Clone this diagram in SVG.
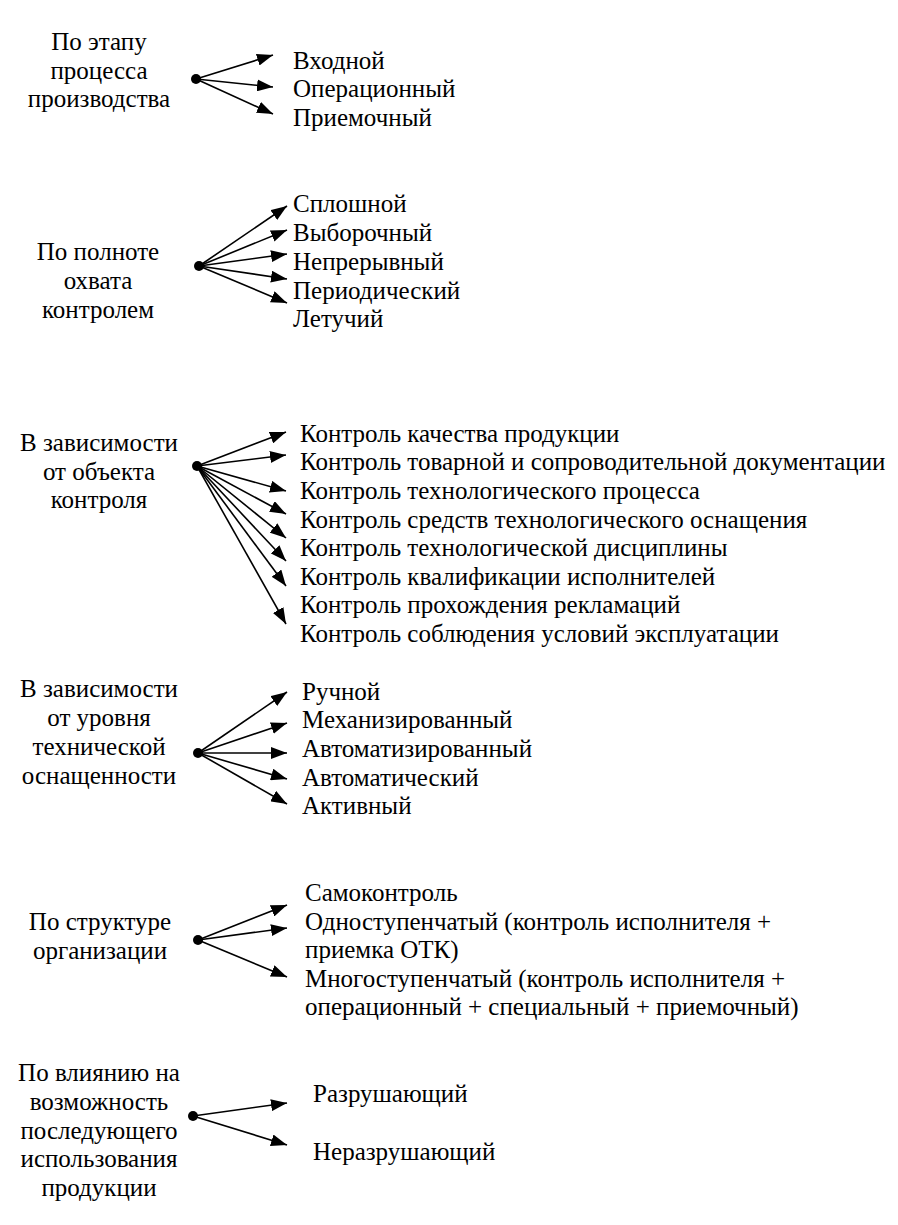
<svg xmlns="http://www.w3.org/2000/svg" width="898" height="1225" viewBox="0 0 898 1225">
<style>
text{font-family:'Liberation Serif','Times New Roman',serif;font-size:25px;fill:#000}
.c{text-anchor:middle}
.ln{stroke:#000;stroke-width:1.6;fill:none}
.dot{fill:#000}
</style>
<defs>
<marker id="ah" markerUnits="userSpaceOnUse" markerWidth="18" markerHeight="12" refX="16" refY="6" orient="auto">
<path d="M0,0 L16,6 L0,12 Z" fill="#000"/>
</marker>
</defs>
<rect width="898" height="1225" fill="#fff"/>
<g font-family="Liberation Serif, serif" font-size="25">
<g id="cat1">
<text class="c" x="99" y="50">По этапу</text>
<text class="c" x="99" y="79">процесса</text>
<text class="c" x="99" y="107">производства</text>
<circle class="dot" cx="196" cy="79" r="5"/>
</g>
<g id="items1">
<text x="293" y="69">Входной</text>
<text x="293" y="97">Операционный</text>
<text x="293" y="126">Приемочный</text>
</g>
<g id="cat2">
<text class="c" x="98" y="260">По полноте</text>
<text class="c" x="98" y="289">охвата</text>
<text class="c" x="98" y="318">контролем</text>
<circle class="dot" cx="199" cy="266" r="5"/>
</g>
<g id="items2">
<text x="293" y="212">Сплошной</text>
<text x="293" y="241">Выборочный</text>
<text x="293" y="270">Непрерывный</text>
<text x="293" y="299">Периодический</text>
<text x="293" y="327">Летучий</text>
</g>
<g id="cat3">
<text class="c" x="99" y="451">В зависимости</text>
<text class="c" x="99" y="480">от объекта</text>
<text class="c" x="99" y="508">контроля</text>
<circle class="dot" cx="197" cy="466" r="5"/>
</g>
<g id="items3">
<text x="300" y="442">Контроль качества продукции</text>
<text x="300" y="470">Контроль товарной и сопроводительной документации</text>
<text x="300" y="499">Контроль технологического процесса</text>
<text x="300" y="528">Контроль средств технологического оснащения</text>
<text x="300" y="556">Контроль технологической дисциплины</text>
<text x="300" y="585">Контроль квалификации исполнителей</text>
<text x="300" y="613">Контроль прохождения рекламаций</text>
<text x="300" y="642">Контроль соблюдения условий эксплуатации</text>
</g>
<g id="cat4">
<text class="c" x="99" y="697">В зависимости</text>
<text class="c" x="99" y="726">от уровня</text>
<text class="c" x="99" y="755">технической</text>
<text class="c" x="99" y="784">оснащенности</text>
<circle class="dot" cx="198" cy="753" r="5"/>
</g>
<g id="items4">
<text x="302" y="700">Ручной</text>
<text x="302" y="728">Механизированный</text>
<text x="302" y="757">Автоматизированный</text>
<text x="302" y="786">Автоматический</text>
<text x="302" y="814">Активный</text>
</g>
<g id="cat5">
<text class="c" x="100" y="930">По структуре</text>
<text class="c" x="100" y="959">организации</text>
<circle class="dot" cx="198" cy="940" r="5"/>
</g>
<g id="items5">
<text x="305" y="901">Самоконтроль</text>
<text x="305" y="930">Одноступенчатый (контроль исполнителя +</text>
<text x="305" y="958">приемка ОТК)</text>
<text x="305" y="987">Многоступенчатый (контроль исполнителя +</text>
<text x="305" y="1015">операционный + специальный + приемочный)</text>
</g>
<g id="cat6">
<text class="c" x="99" y="1081">По влиянию на</text>
<text class="c" x="99" y="1110">возможность</text>
<text class="c" x="99" y="1139">последующего</text>
<text class="c" x="99" y="1167">использования</text>
<text class="c" x="99" y="1196">продукции</text>
<circle class="dot" cx="193" cy="1116" r="5"/>
</g>
<g id="items6">
<text x="313" y="1102">Разрушающий</text>
<text x="313" y="1160">Неразрушающий</text>
</g>
</g>
<g id="connectors" class="ln">
<line x1="196" y1="79" x2="273" y2="55" marker-end="url(#ah)"/>
<line x1="196" y1="79" x2="273" y2="87" marker-end="url(#ah)"/>
<line x1="196" y1="79" x2="273" y2="114" marker-end="url(#ah)"/>
<line x1="199" y1="266" x2="287" y2="206" marker-end="url(#ah)"/>
<line x1="199" y1="266" x2="287" y2="230" marker-end="url(#ah)"/>
<line x1="199" y1="266" x2="287" y2="254" marker-end="url(#ah)"/>
<line x1="199" y1="266" x2="287" y2="279" marker-end="url(#ah)"/>
<line x1="199" y1="266" x2="287" y2="303" marker-end="url(#ah)"/>
<line x1="197" y1="466" x2="286" y2="432" marker-end="url(#ah)"/>
<line x1="197" y1="466" x2="286" y2="455" marker-end="url(#ah)"/>
<line x1="197" y1="466" x2="286" y2="491" marker-end="url(#ah)"/>
<line x1="197" y1="466" x2="286" y2="514" marker-end="url(#ah)"/>
<line x1="197" y1="466" x2="286" y2="538" marker-end="url(#ah)"/>
<line x1="197" y1="466" x2="286" y2="561" marker-end="url(#ah)"/>
<line x1="197" y1="466" x2="286" y2="586" marker-end="url(#ah)"/>
<line x1="197" y1="466" x2="286" y2="624" marker-end="url(#ah)"/>
<line x1="198" y1="753" x2="287" y2="692" marker-end="url(#ah)"/>
<line x1="198" y1="753" x2="287" y2="723" marker-end="url(#ah)"/>
<line x1="198" y1="753" x2="287" y2="753" marker-end="url(#ah)"/>
<line x1="198" y1="753" x2="287" y2="779" marker-end="url(#ah)"/>
<line x1="198" y1="753" x2="287" y2="804" marker-end="url(#ah)"/>
<line x1="198" y1="940" x2="287" y2="905" marker-end="url(#ah)"/>
<line x1="198" y1="940" x2="287" y2="928" marker-end="url(#ah)"/>
<line x1="198" y1="940" x2="287" y2="977" marker-end="url(#ah)"/>
<line x1="193" y1="1116" x2="287" y2="1103" marker-end="url(#ah)"/>
<line x1="193" y1="1116" x2="287" y2="1145" marker-end="url(#ah)"/>
</g>
</svg>
